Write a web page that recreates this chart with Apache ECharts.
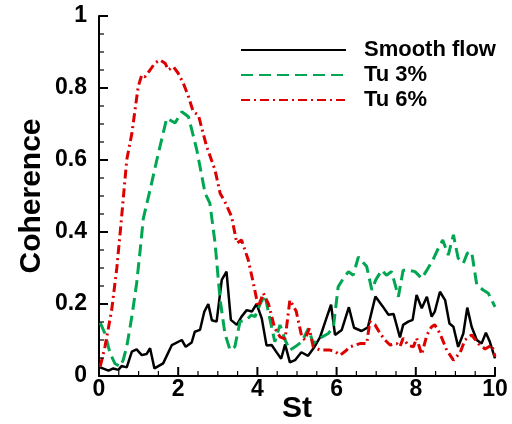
<!DOCTYPE html>
<html>
<head>
<meta charset="utf-8">
<style>
  html, body { margin: 0; padding: 0; background: #fff; }
  #chart { width: 512px; height: 424px; }
</style>
<script src="https://cdn.jsdelivr.net/npm/echarts@6/dist/echarts.min.js"></script>
</head>
<body>
<div id="chart"></div>
<script>
// Coherence spectra versus Strouhal number for three inflow conditions.
var seriesNames = ['Smooth flow', 'Tu 3%', 'Tu 6%'];

var smoothSt = [0.03, 0.24, 0.36, 0.49, 0.57, 0.70, 0.83, 0.95, 1.08, 1.20, 1.29, 1.40, 1.62, 1.84, 2.09, 2.19, 2.34, 2.42, 2.55, 2.66, 2.76, 2.85, 2.97, 3.10, 3.22, 3.33, 3.48, 3.60, 3.73, 3.86, 3.98, 4.11, 4.23, 4.36, 4.49, 4.60, 4.70, 4.82, 4.95, 5.11, 5.28, 5.43, 5.58, 5.75, 5.86, 5.96, 6.13, 6.31, 6.44, 6.63, 6.79, 6.98, 7.16, 7.31, 7.44, 7.60, 7.68, 7.81, 7.92, 8.02, 8.15, 8.28, 8.40, 8.48, 8.61, 8.74, 8.85, 8.95, 9.07, 9.20, 9.30, 9.41, 9.54, 9.66, 9.77, 9.87, 10.0];
var smoothCoh = [0.024, 0.015, 0.021, 0.017, 0.028, 0.024, 0.068, 0.074, 0.058, 0.061, 0.077, 0.021, 0.035, 0.086, 0.100, 0.081, 0.093, 0.123, 0.128, 0.179, 0.200, 0.155, 0.151, 0.267, 0.290, 0.156, 0.142, 0.165, 0.183, 0.179, 0.200, 0.160, 0.085, 0.086, 0.065, 0.048, 0.088, 0.038, 0.044, 0.066, 0.056, 0.079, 0.107, 0.163, 0.198, 0.114, 0.128, 0.191, 0.134, 0.125, 0.135, 0.221, 0.194, 0.170, 0.172, 0.107, 0.142, 0.151, 0.156, 0.225, 0.188, 0.220, 0.165, 0.179, 0.234, 0.211, 0.146, 0.137, 0.081, 0.118, 0.190, 0.137, 0.100, 0.090, 0.120, 0.095, 0.049];

var tu3St = [0.03, 0.15, 0.28, 0.40, 0.53, 0.61, 0.70, 0.83, 0.95, 1.04, 1.12, 1.29, 1.46, 1.58, 1.71, 1.92, 2.09, 2.26, 2.47, 2.68, 2.80, 2.93, 3.06, 3.18, 3.31, 3.43, 3.56, 3.73, 3.84, 3.94, 4.07, 4.19, 4.32, 4.44, 4.57, 4.70, 4.82, 4.95, 5.12, 5.29, 5.41, 5.58, 5.79, 5.92, 6.04, 6.17, 6.30, 6.42, 6.55, 6.67, 6.76, 6.89, 6.99, 7.14, 7.26, 7.39, 7.56, 7.68, 7.81, 7.98, 8.15, 8.28, 8.43, 8.57, 8.68, 8.82, 8.95, 9.07, 9.20, 9.30, 9.41, 9.54, 9.70, 9.83, 10.0];
var tu3Coh = [0.148, 0.118, 0.063, 0.035, 0.026, 0.044, 0.081, 0.165, 0.257, 0.350, 0.438, 0.517, 0.600, 0.656, 0.716, 0.703, 0.734, 0.720, 0.628, 0.507, 0.480, 0.370, 0.211, 0.118, 0.072, 0.081, 0.151, 0.156, 0.169, 0.165, 0.200, 0.225, 0.156, 0.095, 0.142, 0.100, 0.072, 0.081, 0.095, 0.132, 0.090, 0.105, 0.118, 0.137, 0.248, 0.271, 0.290, 0.280, 0.331, 0.315, 0.304, 0.239, 0.267, 0.294, 0.280, 0.290, 0.220, 0.294, 0.294, 0.290, 0.271, 0.294, 0.322, 0.355, 0.378, 0.336, 0.392, 0.327, 0.313, 0.341, 0.345, 0.253, 0.239, 0.230, 0.192];

var tu6St = [0.03, 0.15, 0.32, 0.45, 0.57, 0.70, 0.83, 0.91, 0.99, 1.08, 1.16, 1.29, 1.41, 1.54, 1.67, 1.75, 1.88, 2.00, 2.13, 2.26, 2.38, 2.51, 2.63, 2.72, 2.93, 3.06, 3.18, 3.35, 3.48, 3.60, 3.77, 3.90, 4.02, 4.15, 4.28, 4.44, 4.57, 4.70, 4.82, 4.98, 5.12, 5.20, 5.31, 5.41, 5.58, 5.83, 5.96, 6.09, 6.21, 6.34, 6.59, 6.76, 6.84, 6.97, 7.10, 7.22, 7.35, 7.52, 7.60, 7.68, 7.81, 7.94, 8.02, 8.15, 8.28, 8.40, 8.48, 8.61, 8.78, 8.95, 9.12, 9.24, 9.41, 9.58, 9.75, 9.92, 10.0];
var tu6Coh = [0.026, 0.081, 0.183, 0.300, 0.440, 0.600, 0.674, 0.739, 0.804, 0.836, 0.831, 0.850, 0.869, 0.878, 0.869, 0.850, 0.859, 0.841, 0.813, 0.776, 0.734, 0.725, 0.674, 0.637, 0.572, 0.507, 0.484, 0.442, 0.369, 0.378, 0.322, 0.257, 0.192, 0.230, 0.200, 0.132, 0.109, 0.103, 0.211, 0.180, 0.109, 0.100, 0.132, 0.081, 0.072, 0.072, 0.068, 0.058, 0.068, 0.081, 0.090, 0.090, 0.151, 0.142, 0.118, 0.100, 0.086, 0.090, 0.081, 0.105, 0.085, 0.081, 0.105, 0.060, 0.114, 0.137, 0.142, 0.118, 0.072, 0.044, 0.065, 0.100, 0.114, 0.090, 0.075, 0.086, 0.054];

// Axis tick positions (major ticks carry labels, minor ticks do not).
var xTicks = [0, 2, 4, 6, 8, 10];
var xMinorTicks = [0.5, 1, 1.5, 2.5, 3, 3.5, 4.5, 5, 5.5, 6.5, 7, 7.5, 8.5, 9, 9.5];
var yTicks = [0, 0.2, 0.4, 0.6, 0.8, 1];
var yMinorTicks = [0.05, 0.1, 0.15, 0.25, 0.3, 0.35, 0.45, 0.5, 0.55, 0.65, 0.7, 0.75, 0.85, 0.9, 0.95];

function pairs(xs, ys) {
  return xs.map(function (x, i) { return [x, ys[i]]; });
}

var FONT = '"Liberation Sans", Arial, sans-serif';
var X_MIN = xTicks[0], X_MAX = xTicks[xTicks.length - 1];
var Y_MIN = yTicks[0], Y_MAX = yTicks[yTicks.length - 1];

function labelStyle(margin) {
  return { margin: margin, color: '#000', fontFamily: FONT, fontWeight: 'bold', fontSize: 23 };
}
function nameStyle() {
  return { color: '#000', fontFamily: FONT, fontWeight: 'bold', fontSize: 30 };
}

// Inward tick marks placed through the cartesian coordinate system.
function tickSeries(values, onX, len, width) {
  return {
    type: 'custom',
    silent: true,
    clip: false,
    z: 6,
    tooltip: { show: false },
    data: values.map(function (v) { return [v]; }),
    encode: onX ? { x: 0 } : { y: 0 },
    renderItem: function (params, api) {
      var v = api.value(0);
      var p = onX ? api.coord([v, Y_MIN]) : api.coord([X_MIN, v]);
      var shape = onX
        ? { x1: p[0], y1: p[1], x2: p[0], y2: p[1] - len }
        : { x1: p[0], y1: p[1], x2: p[0] + len, y2: p[1] };
      return { type: 'line', shape: shape, style: { stroke: '#000', lineWidth: width, fill: null } };
    }
  };
}

var chart = echarts.init(document.getElementById('chart'), null, { renderer: 'canvas' });
chart.setOption({
  animation: false,
  backgroundColor: '#fff',
  grid: { left: 99, right: 17, top: 16, bottom: 48, outerBoundsMode: 'none' },
  legend: {
    orient: 'vertical',
    left: 235,
    top: 34,
    itemWidth: 105,
    itemHeight: 14,
    itemGap: 3,
    itemStyle: { opacity: 0 },
    textStyle: { color: '#000', fontFamily: FONT, fontWeight: 'bold', fontSize: 22, padding: [0, 0, 0, 13] },
    data: seriesNames
  },
  xAxis: {
    type: 'value',
    min: X_MIN,
    max: X_MAX,
    interval: xTicks[1] - xTicks[0],
    name: 'St',
    nameLocation: 'middle',
    nameGap: 18,
    nameMoveOverlap: false,
    nameTextStyle: nameStyle(),
    axisLine: { show: true, lineStyle: { color: '#000', width: 2 } },
    axisTick: { show: false },
    minorTick: { show: false },
    splitLine: { show: false },
    axisLabel: labelStyle(2)
  },
  yAxis: {
    type: 'value',
    min: Y_MIN,
    max: Y_MAX,
    interval: yTicks[1] - yTicks[0],
    name: 'Coherence',
    nameLocation: 'middle',
    nameGap: 52,
    nameMoveOverlap: false,
    nameTextStyle: nameStyle(),
    axisLine: { show: true, lineStyle: { color: '#000', width: 2 } },
    axisTick: { show: false },
    minorTick: { show: false },
    splitLine: { show: false },
    axisLabel: labelStyle(12)
  },
  series: [
    {
      name: seriesNames[0], type: 'line', symbol: 'none',
      data: pairs(smoothSt, smoothCoh),
      lineStyle: { color: '#000000', width: 2.5 },
      itemStyle: { color: '#000000' }
    },
    {
      name: seriesNames[1], type: 'line', symbol: 'none',
      data: pairs(tu3St, tu3Coh),
      lineStyle: { color: '#00a651', width: 3, type: [12, 6] },
      itemStyle: { color: '#00a651' }
    },
    {
      name: seriesNames[2], type: 'line', symbol: 'none',
      data: pairs(tu6St, tu6Coh),
      lineStyle: { color: '#dd0000', width: 3, type: [9, 4, 2, 4] },
      itemStyle: { color: '#dd0000' }
    },
    tickSeries(xTicks, true, 9, 2),
    tickSeries(xMinorTicks, true, 5, 1.2),
    tickSeries(yTicks, false, 9, 2),
    tickSeries(yMinorTicks, false, 5, 1.2)
  ]
});
</script>
</body>
</html>
